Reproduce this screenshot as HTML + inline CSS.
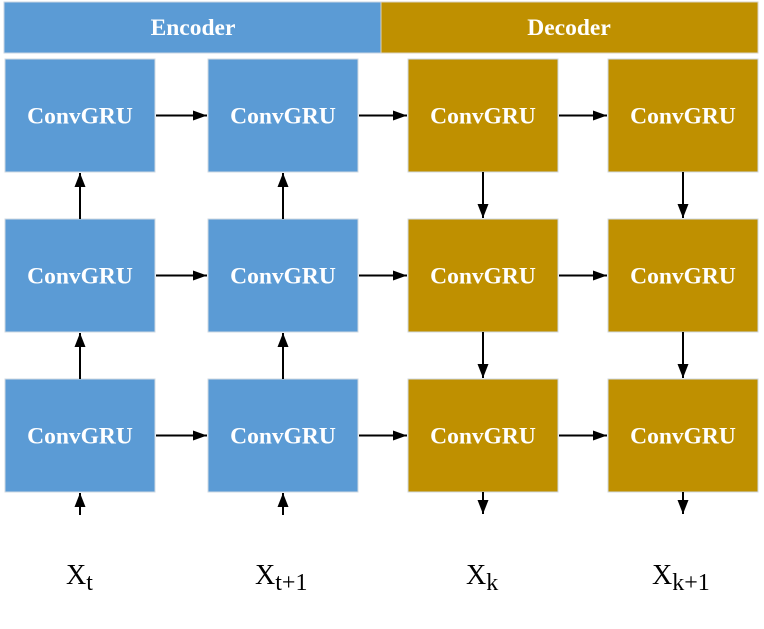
<!DOCTYPE html>
<html><head><meta charset="utf-8"><style>
html,body{margin:0;padding:0;background:#fff;}
svg{display:block;}
.bt{font-family:"Liberation Serif",serif;font-weight:bold;font-size:23.5px;fill:#fff;}
.lb{font-family:"Liberation Serif",serif;font-size:28px;fill:#000;}
</style></head><body>
<svg width="764" height="629" viewBox="0 0 764 629">
<defs>
<marker id="ah" markerWidth="14" markerHeight="10" refX="14" refY="5" orient="auto" markerUnits="userSpaceOnUse">
<path d="M0,0 L14,5 L0,10 z" fill="#000"/></marker>
<marker id="av" markerWidth="14" markerHeight="11" refX="14" refY="5.5" orient="auto" markerUnits="userSpaceOnUse">
<path d="M0,0 L14,5.5 L0,11 z" fill="#000"/></marker>
</defs>
<g>
<rect x="4" y="2" width="377" height="51" fill="#5B9BD5" stroke="#c9d6e3" stroke-width="1"/>
<text x="193" y="35" text-anchor="middle" class="bt">Encoder</text></g>
<g>
<rect x="381" y="2" width="377" height="51" fill="#BF9000" stroke="#d9d2c0" stroke-width="1"/>
<text x="569" y="35" text-anchor="middle" class="bt">Decoder</text></g>
<g id="boxes"></g>
<g id="arrows"></g>
<g><text x="66" y="584" class="lb">X<tspan dy="6" font-size="24">t</tspan></text></g>
<g><text x="255" y="584" class="lb">X<tspan dy="6" font-size="24">t+1</tspan></text></g>
<g><text x="466" y="584" class="lb">X<tspan dy="6" font-size="24">k</tspan></text></g>
<g><text x="652" y="584" class="lb">X<tspan dy="6" font-size="24">k+1</tspan></text></g>
</svg>
<script>
const colX=[5,208,408,608], rowY=[59,219,379], W=150, H=113;
const colors=['#5B9BD5','#5B9BD5','#BF9000','#BF9000'];
const NS='http://www.w3.org/2000/svg';
const bg=document.getElementById('boxes'), ag=document.getElementById('arrows');
colX.forEach((x,c)=>rowY.forEach((y,r)=>{
  const g=document.createElementNS(NS,'g');
  
  
  const rc=document.createElementNS(NS,'rect');
  rc.setAttribute('x',x);rc.setAttribute('y',y);rc.setAttribute('width',W);rc.setAttribute('height',H);
  rc.setAttribute('fill',colors[c]);rc.setAttribute('stroke','#cfd8e2');rc.setAttribute('stroke-width','1');
  const t=document.createElementNS(NS,'text');
  t.setAttribute('x',x+W/2);t.setAttribute('y',y+H/2+8);t.setAttribute('text-anchor','middle');t.setAttribute('class','bt');
  t.textContent='ConvGRU';
  g.appendChild(rc);g.appendChild(t);bg.appendChild(g);
}));
function arrow(x1,y1,x2,y2,m){
  const l=document.createElementNS(NS,'line');
  l.setAttribute('x1',x1);l.setAttribute('y1',y1);l.setAttribute('x2',x2);l.setAttribute('y2',y2);
  l.setAttribute('stroke','#000');l.setAttribute('stroke-width','2');l.setAttribute('marker-end','url(#'+m+')');
  
  
  ag.appendChild(l);
}
rowY.forEach(y=>{for(let c=0;c<3;c++)arrow(colX[c]+W+1,y+H/2,colX[c+1]-1,y+H/2,'ah');});
[0,1].forEach(c=>{const cx=colX[c]+W/2;
  arrow(cx,rowY[1],cx,rowY[0]+H+1,'av');arrow(cx,rowY[2],cx,rowY[1]+H+1,'av');
  arrow(cx,515,cx,rowY[2]+H+1,'av');});
[2,3].forEach(c=>{const cx=colX[c]+W/2;
  arrow(cx,rowY[0]+H,cx,rowY[1]-1,'av');arrow(cx,rowY[1]+H,cx,rowY[2]-1,'av');
  arrow(cx,rowY[2]+H,cx,514,'av');});
</script>
</body></html>
